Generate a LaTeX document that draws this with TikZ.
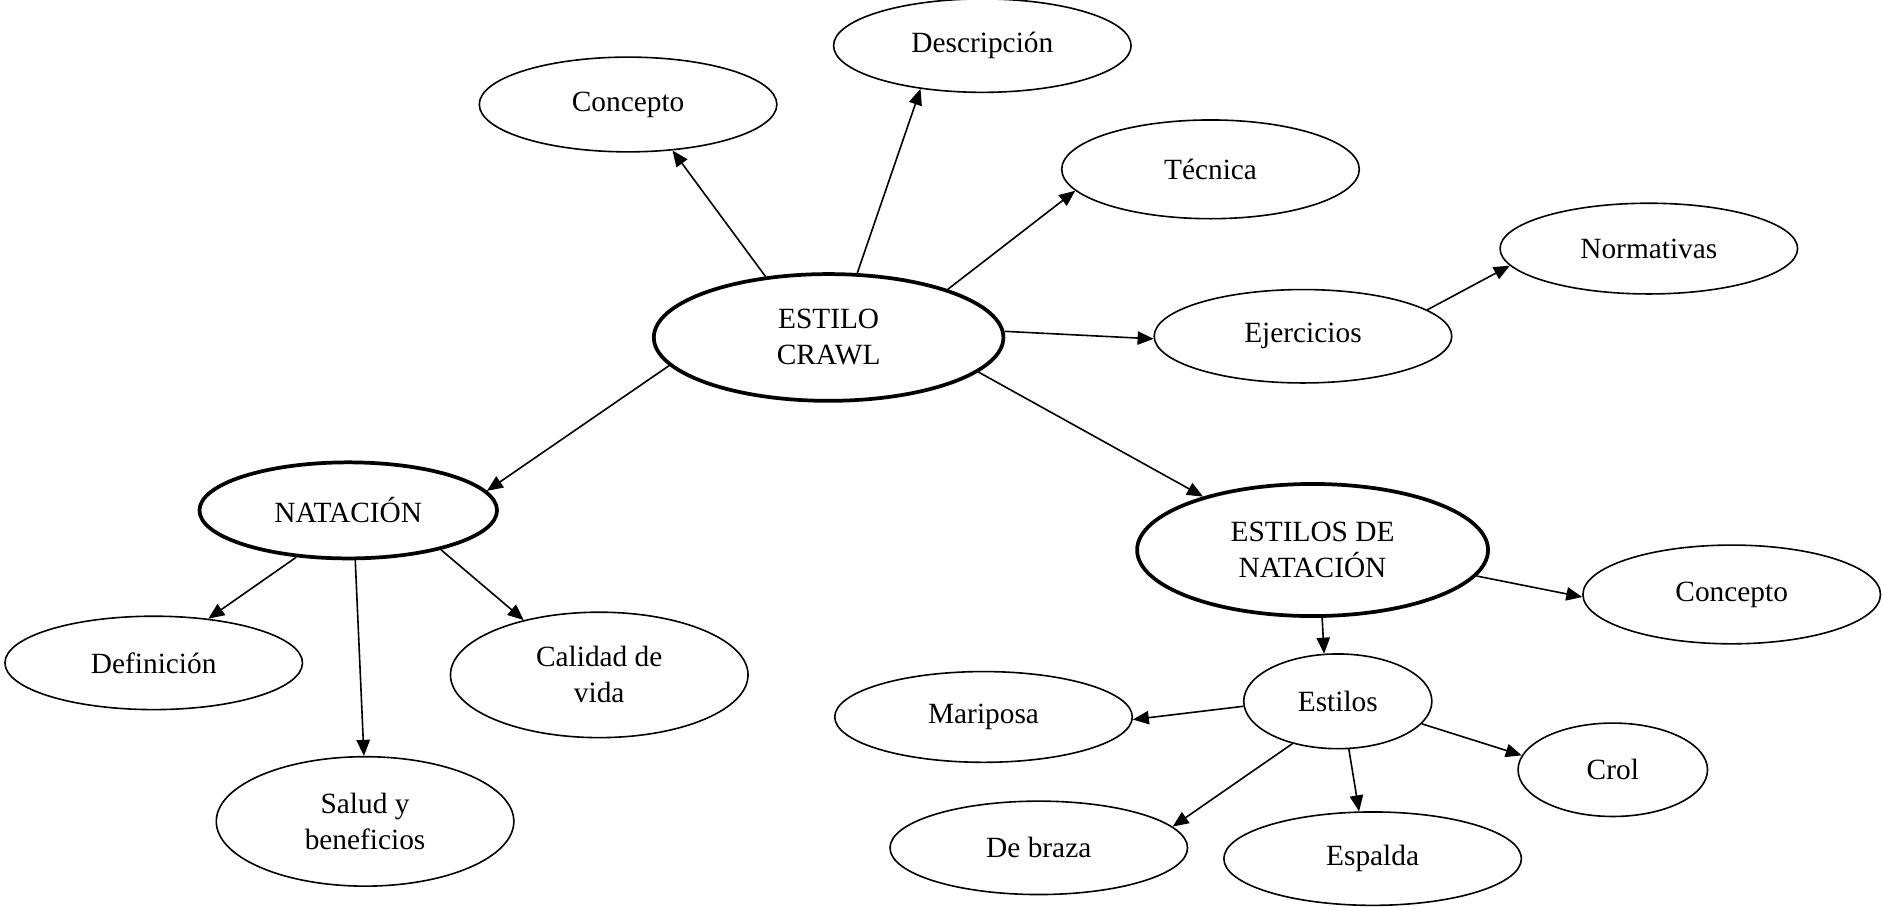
\documentclass[tikz,border=0pt]{standalone}
\usepackage{fontspec}
\setmainfont{Liberation Serif}
\usetikzlibrary{shapes.geometric,arrows.meta}

\tikzset{
  bub/.style={ellipse,draw,line width=1.2pt,inner sep=0pt,align=center,
    minimum width=223pt,minimum height=70pt,font=\fontsize{22}{27}\selectfont},
  hub/.style={bub,line width=2.8pt},
  link/.style={line width=1.2pt,-{Triangle[length=12pt,width=10pt]}}
}

\begin{document}
\begin{tikzpicture}[x=0.9pt,y=0.9pt,yscale=-1,xscale=1]
\path[use as bounding box] (0,0) rectangle (1568,755);
%Main ellipses
\node[hub,minimum width=262pt,minimum height=95pt] (crawl) at (690,281) {ESTILO\\CRAWL};
\node[hub,minimum height=72pt] (natacion) at (290,425) {NATACIÓN};
\node[hub,minimum width=263pt,minimum height=99pt] (estilosnat) at (1093,458) {ESTILOS DE\\NATACIÓN};
%Top branch
\node[bub,minimum height=71pt] (concepto) at (523,87) {Concepto};
\node[bub] (descripcion) at (818,38) {Descripción};
\node[bub,minimum height=74pt] (tecnica) at (1008,141) {Técnica};
\node[bub] (ejercicios) at (1085,280) {Ejercicios};
\node[bub,minimum height=68pt] (normativas) at (1373,207) {Normativas};
%Left branch
\node[bub] (definicion) at (128,552) {Definición};
\node[bub,minimum height=94pt] (calidad) at (499,562) {Calidad de\\vida};
\node[bub,minimum height=97pt] (salud) at (304,684) {Salud y\\beneficios};
%Right branch
\node[bub,minimum height=74pt] (conceptob) at (1442,495) {Concepto};
\node[bub,minimum width=141pt,minimum height=71pt] (estilos) at (1114,584) {Estilos};
\node[bub,minimum height=68pt] (mariposa) at (819,597) {Mariposa};
\node[bub,minimum width=142pt] (crol) at (1343,641) {Crol};
\node[bub] (braza) at (865,706) {De braza};
\node[bub] (espalda) at (1143,715) {Espalda};
%Arrows
\draw[link] (crawl.136) -- (concepto.314);
\draw[link] (crawl.66) -- (descripcion.215);
\draw[link] (crawl.22) -- (tecnica.189);
\draw[link] (crawl.2) -- (ejercicios.181);
\draw[link] (ejercicios.12) -- (normativas.187);
\draw[link] (crawl.190) -- (natacion.8);
\draw[link] (crawl.347) -- (estilosnat.154);
\draw[link] (natacion.222) -- (definicion.39);
\draw[link] (natacion.278) -- (salud.91);
\draw[link] (natacion.337) -- (calidad.144);
\draw[link] (estilosnat.351) -- (conceptob.181);
\draw[link] (estilosnat.278) -- (estilos.106);
\draw[link] (estilos.183) -- (mariposa.359);
\draw[link] (estilos.223) -- (braza.9);
\draw[link] (estilos.283) -- (espalda.106);
\draw[link] (estilos.345) -- (crol.171);
\end{tikzpicture}
\end{document}
